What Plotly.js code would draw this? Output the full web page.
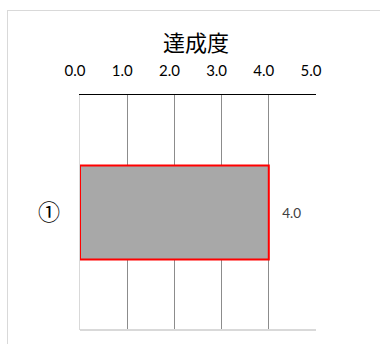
<!DOCTYPE html>
<html>
<head>
<meta charset="utf-8">
<script src="https://cdn.plot.ly/plotly-3.0.1.min.js"></script>
<style>
html,body{margin:0;padding:0;background:#fff;}
#wrap{position:relative;width:380px;height:344px;overflow:hidden;}
#frame{position:absolute;left:7px;top:10px;width:400px;height:400px;border:1px solid #d9d9d9;box-sizing:border-box;}
#chart{position:absolute;left:0;top:0;width:380px;height:344px;}
</style>
</head>
<body>
<div id="wrap">
<div id="frame"></div>
<div id="chart"></div>
</div>
<script>
const categories = ['①'];
const values = [4.0];
const tickVals = [0, 1, 2, 3, 4, 5];
const tickText = ['0.0', '1.0', '2.0', '3.0', '4.0', '5.0'];
const chartTitle = '達成度';

const trace = {
  type: 'bar',
  orientation: 'h',
  y: categories,
  x: values,
  width: 0.4,
  marker: {color: '#A8A8A8', line: {color: '#FF0000', width: 2}},
  text: values.map(v => '   ' + v.toFixed(1)),
  textposition: 'outside',
  textfont: {family: 'Lato, "Open Sans", sans-serif', size: 13.5, color: '#404040'},
  cliponaxis: false,
  hoverinfo: 'none'
};

const layout = {
  width: 380, height: 344,
  margin: {l: 80, r: 64, t: 95, b: 14},
  paper_bgcolor: 'rgba(0,0,0,0)',
  plot_bgcolor: 'rgba(0,0,0,0)',
  showlegend: false,
  title: {
    text: chartTitle,
    font: {family: '"Noto Sans CJK JP", sans-serif', size: 22, color: '#000'},
    x: 196/380, xref: 'container', xanchor: 'center',
    y: 1 - 43/344, yref: 'container', yanchor: 'middle'
  },
  xaxis: {
    side: 'top',
    range: [0, 5],
    tickvals: tickVals,
    ticktext: tickText,
    ticklabelshift: -5,
    ticks: '',
    ticklabelstandoff: 12,
    showgrid: true,
    gridcolor: '#8c8c8c',
    gridwidth: 1.2,
    zeroline: false,
    showline: true,
    linecolor: '#000',
    linewidth: 1,
    tickfont: {family: 'Lato, "Open Sans", sans-serif', size: 15, color: '#000'},
    fixedrange: true
  },
  yaxis: {
    range: [-0.5, 0.5],
    showgrid: false,
    zeroline: false,
    showline: true,
    linecolor: '#d9d9d9',
    linewidth: 1.5,
    ticks: '',
    ticklabelstandoff: 14,
    tickfont: {family: '"Noto Sans CJK JP", sans-serif', size: 22, color: '#000'},
    fixedrange: true
  },
  shapes: [{
    type: 'line', xref: 'paper', yref: 'paper',
    x0: 0, x1: 1, y0: 0, y1: 0,
    line: {color: '#d9d9d9', width: 2}
  }]
};

Plotly.newPlot('chart', [trace], layout, {displayModeBar: false, staticPlot: true});
</script>
</body>
</html>
